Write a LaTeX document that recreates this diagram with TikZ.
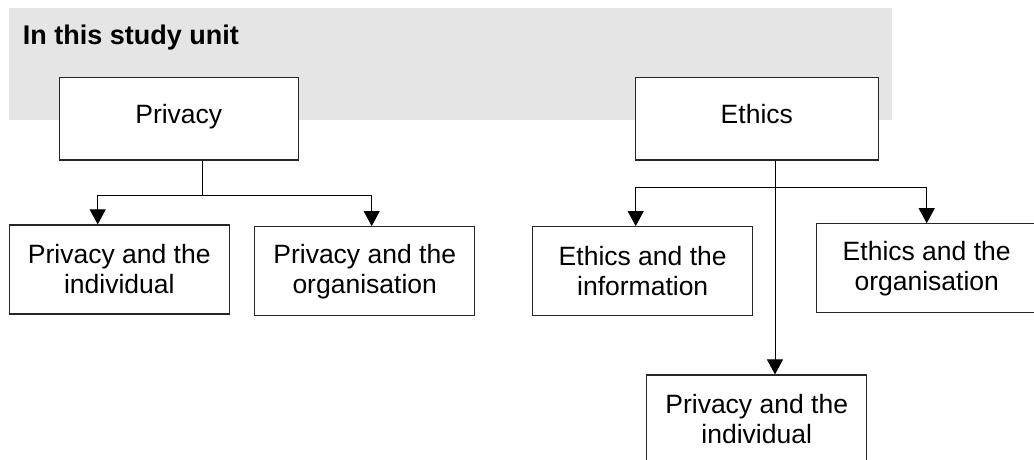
\documentclass[tikz,border=0pt]{standalone}
\usepackage{fontspec}
\setmainfont{Liberation Sans}
\usetikzlibrary{arrows.meta}

\tikzset{
  unitbox/.style={draw=black!85, fill=white, line width=1.2pt, minimum width=220pt, minimum height=89pt,
    inner sep=0pt, align=center, font=\fontsize{26.5}{30}\selectfont},
  topbox/.style={unitbox, minimum height=82.3pt, text height=18.6pt, text depth=10pt},
  link/.style={line width=1pt, -{Triangle[length=15pt,width=16pt]}},
  stem/.style={line width=1pt},
}

\begin{document}
\begin{tikzpicture}[x=1pt,y=-1pt]
\useasboundingbox (0,0) rectangle (1034,460);
% Grey heading band
\fill[black!10] (9.3,8) rectangle (891.7,120);
\node[anchor=base west, inner sep=0pt, font=\fontsize{27}{30}\selectfont\bfseries] (title) at (22.7,45) {In this study unit};

% Top level
\node[topbox, minimum width=239pt] (privacy) at (178.8,118.8) {Privacy};
\node[topbox, minimum width=243pt] (ethics) at (756.8,118.8) {Ethics};

% Second level
\node[unitbox] (pind) at (119.3,269.5) {Privacy and the\\individual};
\node[unitbox] (porg) at (364.7,271.2) {Privacy and the\\organisation};
\node[unitbox] (einf) at (642.7,271.2) {Ethics and the\\information};
\node[unitbox] (eorg) at (926.7,268.3) {Ethics and the\\organisation};
\node[unitbox] (eind) at (756.7,419.5) {Privacy and the\\individual};

% Connectors
\coordinate (pjoin) at (202.3,195);
\draw[stem] (pjoin |- privacy.south) -- (pjoin);
\draw[link] (pjoin) -| ([xshift=-21.6pt]pind.north);
\draw[link] (pjoin) -| ([xshift=7pt]porg.north);

\coordinate (ejoin) at (775,187.7);
\draw[link] (ejoin |- ethics.south) -- (ejoin |- eind.north);
\draw[link] (ejoin) -| ([xshift=-7pt]einf.north);
\draw[link] (ejoin) -| (eorg.north);
\end{tikzpicture}
\end{document}
